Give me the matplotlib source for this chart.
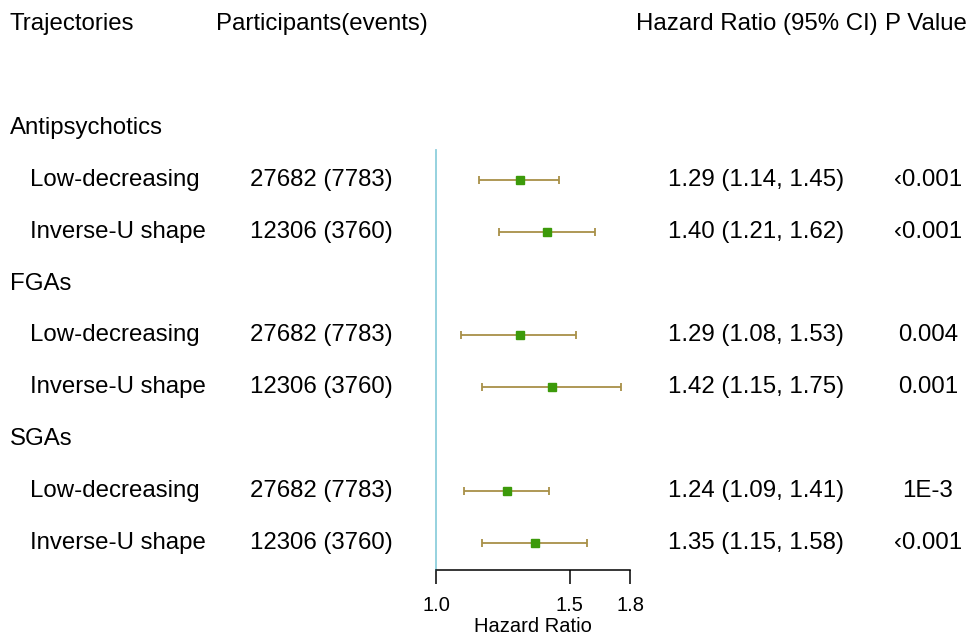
import numpy as np
import matplotlib
matplotlib.use("Agg")
import matplotlib.pyplot as plt
import matplotlib.transforms as mtransforms

plt.rcParams['font.family'] = ['Liberation Sans', 'DejaVu Sans']

# datos de la tabla
groups = ["Antipsychotics", "FGAs", "SGAs"]
trajectories = ["Low-decreasing", "Inverse-U shape"]
participants = ["27682 (7783)", "12306 (3760)"]
hr = [1.29, 1.40, 1.29, 1.42, 1.24, 1.35]
lower = [1.14, 1.21, 1.08, 1.15, 1.09, 1.15]
upper = [1.45, 1.62, 1.53, 1.75, 1.41, 1.58]
pvals = ["\u20390.001", "\u20390.001", "0.004", "0.001", "1E-3", "\u20390.001"]
xticks = [1.0, 1.5, 1.8]

W, H = 973, 638
fig = plt.figure(figsize=(W / 100, H / 100), dpi=100)

# eje del forest plot (escala log)
ax = fig.add_axes([436 / W, (H - 570) / H, (630 - 436) / W, 570 / H])
ax.set_xscale("log")
ax.set_xlim(1.0, 1.8)
ax.set_ylim(10.52, -0.466)

for s in ["top", "right", "left"]:
    ax.spines[s].set_visible(False)
ax.spines["bottom"].set_linewidth(1.1)
ax.set_yticks([])
ax.set_xticks(xticks)
ax.set_xticklabels(["%.1f" % t for t in xticks], fontsize=14.5)
ax.xaxis.set_minor_locator(matplotlib.ticker.NullLocator())
ax.tick_params(axis="x", direction="out", length=10, width=1.1, pad=9)
ax.set_xlabel("Hazard Ratio", fontsize=14.5, labelpad=1)

# filas: encabezado 0, grupos en 2,5,8
rows = []
group_rows = []
r = 2
for g in groups:
    group_rows.append(r)
    rows += [r + 1, r + 2]
    r += 3

ax.plot([1.0, 1.0], [2.42, 10.52], color="#8ecfdc", lw=1.3, clip_on=False)

hr = np.array(hr)
lower = np.array(lower)
upper = np.array(upper)
ax.errorbar(hr, rows, xerr=[hr - lower, upper - hr], fmt="none",
            ecolor="#a89048", elinewidth=1.3, capsize=3, capthick=1.3)
ax.plot(hr, rows, "s", color="#3c9a0a", markersize=5.5, ls="none")

# textos
tr = mtransforms.blended_transform_factory(fig.transFigure, ax.transData)
fs = 17.3

def px(x):
    return x / W

ax.text(px(10), 0, "Trajectories", transform=tr, fontsize=fs, va="center")
ax.text(px(216), 0, "Participants(events)", transform=tr, fontsize=fs, va="center")
ax.text(px(636), 0, "Hazard Ratio (95% CI)", transform=tr, fontsize=fs, va="center")
ax.text(px(885), 0, "P Value", transform=tr, fontsize=fs, va="center")

for g, gr in zip(groups, group_rows):
    ax.text(px(10), gr, g, transform=tr, fontsize=fs, va="center")

for i, rr in enumerate(rows):
    ax.text(px(30), rr, trajectories[i % 2], transform=tr, fontsize=fs, va="center")
    ax.text(px(250), rr, participants[i % 2], transform=tr, fontsize=fs, va="center")
    ax.text(px(668), rr, "%.2f (%.2f, %.2f)" % (hr[i], lower[i], upper[i]),
            transform=tr, fontsize=fs, va="center")
    ax.text(px(928), rr, pvals[i], transform=tr, fontsize=fs, va="center", ha="center")

fig.savefig("out.png", dpi=100)
